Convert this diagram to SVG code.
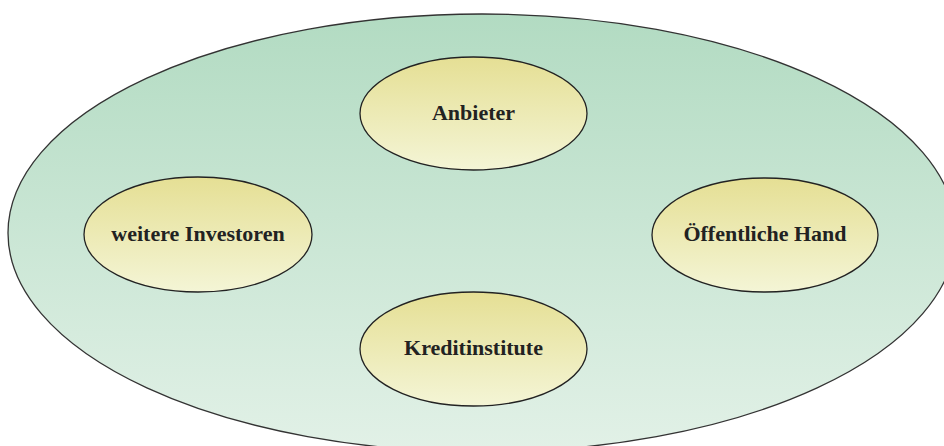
<svg xmlns="http://www.w3.org/2000/svg" width="944" height="446" viewBox="0 0 944 446">
  <defs>
    <linearGradient id="outerFill" x1="0" y1="0" x2="0" y2="1">
      <stop offset="0" stop-color="#b2dbc2"/>
      <stop offset="1" stop-color="#e2f1e7"/>
    </linearGradient>
    <linearGradient id="nodeFill" x1="0" y1="0" x2="0" y2="1">
      <stop offset="0" stop-color="#e5df94"/>
      <stop offset="1" stop-color="#f4f5d6"/>
    </linearGradient>
  </defs>
  <style>
    .outer { fill: url(#outerFill); stroke: #333; stroke-width: 1.3; }
    .node ellipse { fill: url(#nodeFill); stroke: #222; stroke-width: 1.3; }
    .node text { font-family: "Liberation Serif", "DejaVu Serif", serif; font-size: 22px; font-weight: bold; fill: #222; text-anchor: middle; }
  </style>

  <rect width="944" height="446" fill="#ffffff"/>

  <!-- market area -->
  <ellipse id="market" class="outer" cx="482" cy="233" rx="474" ry="219"/>

  <g id="connectors"/>

  <g id="anbieter" class="node">
    <ellipse cx="473.5" cy="113.5" rx="113.5" ry="56.5"/>
    <text x="473.5" y="120">Anbieter</text>
  </g>

  <g id="investoren" class="node">
    <ellipse cx="198" cy="234.5" rx="114" ry="57.5"/>
    <text x="198" y="241">weitere Investoren</text>
  </g>

  <g id="oeffentliche-hand" class="node">
    <ellipse cx="765" cy="235" rx="113" ry="57"/>
    <text x="765" y="241">Öffentliche Hand</text>
  </g>

  <g id="kreditinstitute" class="node">
    <ellipse cx="473.5" cy="349" rx="113.5" ry="57"/>
    <text x="473.5" y="355">Kreditinstitute</text>
  </g>
</svg>
